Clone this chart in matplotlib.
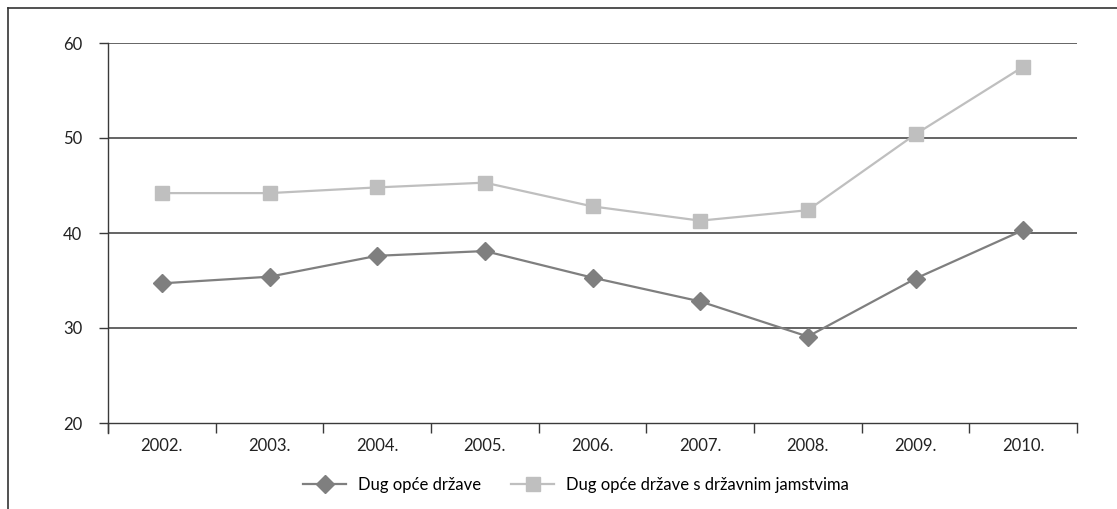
import matplotlib
matplotlib.use("Agg")
import matplotlib.pyplot as plt
from matplotlib.lines import Line2D
from matplotlib.ticker import FixedLocator, NullFormatter

plt.rcParams["font.family"] = ["Lato", "DejaVu Sans"]

# Podaci (% BDP-a)
godine = ["2002.", "2003.", "2004.", "2005.", "2006.", "2007.", "2008.", "2009.", "2010."]
dug_opce = [34.7, 35.4, 37.6, 38.1, 35.3, 32.8, 29.1, 35.2, 40.3]
dug_jamstva = [44.2, 44.2, 44.8, 45.3, 42.8, 41.3, 42.4, 50.4, 57.5]
naziv_opce = "Dug opće države"
naziv_jamstva = "Dug opće države s državnim jamstvima"
y_ticks = [20, 30, 40, 50, 60]

C_DARK = "#7f7f7f"
C_LIGHT = "#bfbfbf"
C_AX = "#3a3a3a"
FS = 12

fig = plt.figure(figsize=(11.17, 5.09), dpi=100)
ax = fig.add_axes([108 / 1117, 1 - 423 / 509, (1077 - 108) / 1117, (423 - 43) / 509])

x = list(range(len(godine)))
ax.plot(x, dug_opce, color=C_DARK, lw=1.6, marker="D", ms=9.5,
        markeredgecolor=C_DARK, zorder=4, clip_on=False)
ax.plot(x, dug_jamstva, color=C_LIGHT, lw=1.6, marker="s", ms=9.5,
        markeredgecolor=C_LIGHT, zorder=3, clip_on=False)

ax.set_xlim(-0.5, len(godine) - 0.5)
ax.set_ylim(y_ticks[0], y_ticks[-1])
ax.set_yticks(y_ticks)
for v in y_ticks[1:]:
    ax.axhline(v, color=C_AX, lw=1.1, zorder=1)

# kategorijska os: crtice na granicama, oznake u sredini
ax.xaxis.set_major_locator(FixedLocator([i - 0.5 for i in range(len(godine) + 1)]))
ax.xaxis.set_major_formatter(NullFormatter())
ax.xaxis.set_minor_locator(FixedLocator(x))
ax.set_xticklabels(godine, minor=True)
ax.tick_params(axis="x", which="major", length=7.5, width=1.0, color=C_AX)
ax.tick_params(axis="x", which="minor", length=0, pad=11, labelsize=FS, labelcolor="#222")
ax.tick_params(axis="y", length=6.5, width=1.0, color=C_AX, pad=12, labelsize=FS,
               labelcolor="#222")

for s in ("top", "right"):
    ax.spines[s].set_visible(False)
for s in ("left", "bottom"):
    ax.spines[s].set_color(C_AX)
    ax.spines[s].set_linewidth(1.0)
ax.spines["left"].set_bounds(y_ticks[0] - 1.05, y_ticks[-1])

legend = [
    Line2D([0], [0], color=C_DARK, lw=1.6, marker="D", ms=9.5, label=naziv_opce),
    Line2D([0], [0], color=C_LIGHT, lw=1.6, marker="s", ms=9.5, label=naziv_jamstva),
]
fig.legend(handles=legend, loc="center", bbox_to_anchor=(576 / 1117, 1 - 485 / 509),
           ncol=2, frameon=False, fontsize=FS, handlelength=2.6, columnspacing=1.8,
           handletextpad=0.7)

# okvir slike (lijevi i gornji rub)
fig.add_artist(Line2D([8 / 1117, 8 / 1117], [0, 1 - 8 / 509], color="#333", lw=1.2,
                      transform=fig.transFigure))
fig.add_artist(Line2D([8 / 1117, 1], [1 - 8 / 509, 1 - 8 / 509], color="#333", lw=1.2,
                      transform=fig.transFigure))

fig.savefig("out.png", dpi=100)
